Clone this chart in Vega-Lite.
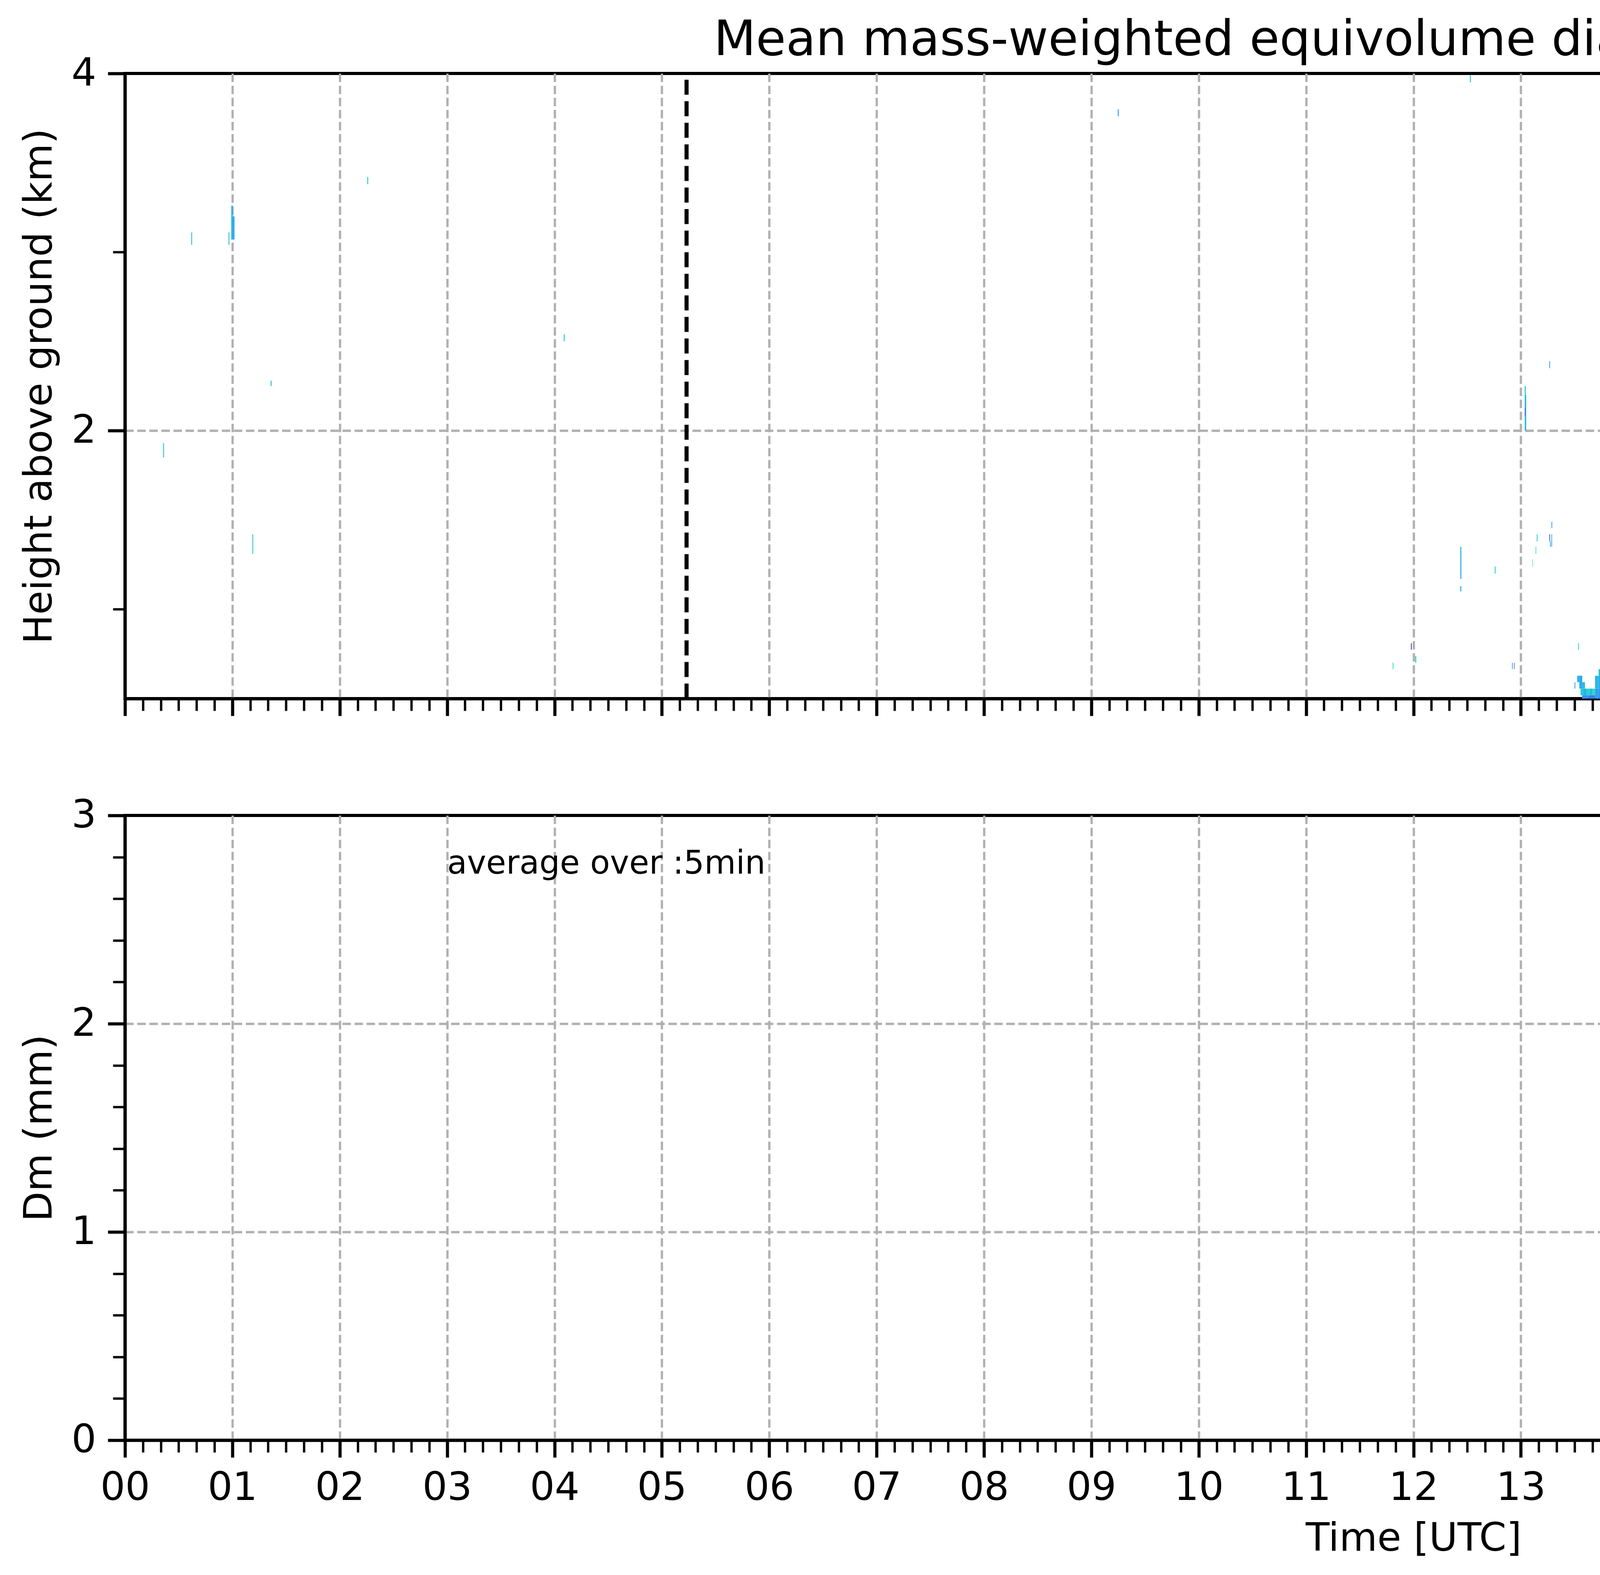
{
"$schema": "https://vega.github.io/schema/vega-lite/v6.json",
"background": "white",
"padding": {"left": 47, "top": 37, "right": 80, "bottom": 10},
"config": {
  "font": "DejaVu Sans",
  "view": {"stroke": "black", "strokeWidth": 8},
  "axis": {"labelFont": "DejaVu Sans", "titleFont": "DejaVu Sans", "labelColor": "black", "titleColor": "black", "tickColor": "black", "titleFontWeight": "normal", "labelFontSize": 100, "titleFontSize": 100, "labelOverlap": false, "labelFlush": false, "labelBound": false, "domain": true, "domainColor": "black", "domainWidth": 8, "gridColor": "#b0b0b0", "gridWidth": 5.8, "gridDash": [21.6, 9.3], "zindex": 1}
},
"datasets": {
"heat": [
{"t0":0.355,"t1":0.364,"h0":1.85,"h1":1.93,"dm":0.6},
{"t0":0.617,"t1":0.625,"h0":3.04,"h1":3.11,"dm":0.5},
{"t0":0.964,"t1":0.972,"h0":3.04,"h1":3.11,"dm":0.5},
{"t0":0.99,"t1":1.005,"h0":3.07,"h1":3.26,"dm":0.48},
{"t0":1.005,"t1":1.02,"h0":3.07,"h1":3.2,"dm":0.45},
{"t0":1.186,"t1":1.194,"h0":1.31,"h1":1.42,"dm":0.57},
{"t0":1.356,"t1":1.365,"h0":2.25,"h1":2.28,"dm":0.53},
{"t0":2.256,"t1":2.265,"h0":3.38,"h1":3.42,"dm":0.57},
{"t0":4.086,"t1":4.095,"h0":2.5,"h1":2.54,"dm":0.57},
{"t0":9.246,"t1":9.255,"h0":3.76,"h1":3.8,"dm":0.45},
{"t0":11.806,"t1":11.814,"h0":0.665,"h1":0.701,"dm":0.72},
{"t0":11.976,"t1":11.984,"h0":0.774,"h1":0.81,"dm":0.15},
{"t0":12.016,"t1":12.026,"h0":0.701,"h1":0.738,"dm":0.6},
{"t0":12.436,"t1":12.446,"h0":1.17,"h1":1.35,"dm":0.48},
{"t0":12.436,"t1":12.446,"h0":1.1,"h1":1.13,"dm":0.48},
{"t0":12.525,"t1":12.534,"h0":3.95,"h1":3.99,"dm":0.57},
{"t0":12.756,"t1":12.765,"h0":1.2,"h1":1.24,"dm":0.65},
{"t0":12.918,"t1":12.924,"h0":0.665,"h1":0.701,"dm":0.32},
{"t0":12.936,"t1":12.942,"h0":0.665,"h1":0.701,"dm":0.32},
{"t0":13.036,"t1":13.046,"h0":2.2,"h1":2.25,"dm":0.57},
{"t0":13.036,"t1":13.05,"h0":2.13,"h1":2.2,"dm":0.5},
{"t0":13.036,"t1":13.043,"h0":2.08,"h1":2.13,"dm":0.2},
{"t0":13.043,"t1":13.05,"h0":2.08,"h1":2.13,"dm":0.45},
{"t0":13.036,"t1":13.05,"h0":2.0,"h1":2.08,"dm":0.5},
{"t0":13.106,"t1":13.112,"h0":1.24,"h1":1.28,"dm":0.85},
{"t0":13.137,"t1":13.143,"h0":1.31,"h1":1.35,"dm":0.68},
{"t0":13.148,"t1":13.155,"h0":1.38,"h1":1.42,"dm":0.57},
{"t0":13.265,"t1":13.272,"h0":2.35,"h1":2.39,"dm":0.4},
{"t0":13.265,"t1":13.272,"h0":1.38,"h1":1.42,"dm":0.2},
{"t0":13.272,"t1":13.279,"h0":1.35,"h1":1.38,"dm":0.48},
{"t0":13.284,"t1":13.291,"h0":1.35,"h1":1.42,"dm":0.48},
{"t0":13.285,"t1":13.292,"h0":1.455,"h1":1.49,"dm":0.4},
{"t0":13.533,"t1":13.541,"h0":0.774,"h1":0.81,"dm":0.68},
{"t0":14.755,"t1":14.764,"h0":1.6,"h1":1.64,"dm":0.57},
{"t0":14.805,"t1":14.814,"h0":1.0,"h1":1.04,"dm":0.38},
{"t0":16.845,"t1":16.854,"h0":1.38,"h1":1.49,"dm":0.57},
{"t0":19.596,"t1":19.605,"h0":1.91,"h1":1.95,"dm":0.5},
{"t0":21.236,"t1":21.245,"h0":1.34,"h1":1.41,"dm":0.5},
{"t0":22.756,"t1":22.765,"h0":1.77,"h1":1.82,"dm":0.53},
{"t0":23.302,"t1":23.31,"h0":0.99,"h1":1.06,"dm":0.6},
{"t0":23.381,"t1":23.389,"h0":1.27,"h1":1.31,"dm":0.85},
{"t0":13.5,"t1":13.507,"h0":0.556,"h1":0.592,"dm":0.38},
{"t0":13.525,"t1":13.545,"h0":0.592,"h1":0.628,"dm":0.48},
{"t0":13.545,"t1":13.572,"h0":0.556,"h1":0.628,"dm":0.45},
{"t0":13.572,"t1":13.597,"h0":0.556,"h1":0.592,"dm":0.5},
{"t0":13.556,"t1":13.58,"h0":0.519,"h1":0.556,"dm":0.57},
{"t0":13.58,"t1":13.61,"h0":0.519,"h1":0.556,"dm":0.48},
{"t0":13.61,"t1":13.64,"h0":0.519,"h1":0.556,"dm":0.6},
{"t0":13.64,"t1":13.67,"h0":0.519,"h1":0.556,"dm":0.5},
{"t0":13.67,"t1":13.691,"h0":0.519,"h1":0.556,"dm":0.65},
{"t0":13.57,"t1":13.63,"h0":0.5,"h1":0.519,"dm":0.38},
{"t0":13.63,"t1":13.691,"h0":0.5,"h1":0.519,"dm":0.3},
{"t0":13.691,"t1":13.724,"h0":0.5,"h1":0.556,"dm":0.42},
{"t0":13.691,"t1":13.724,"h0":0.556,"h1":0.628,"dm":0.5},
{"t0":13.724,"t1":13.76,"h0":0.5,"h1":0.556,"dm":0.38},
{"t0":13.724,"t1":13.76,"h0":0.556,"h1":0.628,"dm":0.45},
{"t0":13.724,"t1":13.76,"h0":0.628,"h1":0.665,"dm":0.53},
{"t0":13.76,"t1":13.8,"h0":0.5,"h1":0.556,"dm":0.48},
{"t0":13.76,"t1":13.8,"h0":0.556,"h1":0.592,"dm":0.35},
{"t0":13.76,"t1":13.8,"h0":0.592,"h1":0.628,"dm":0.5},
{"t0":13.76,"t1":13.8,"h0":0.628,"h1":0.665,"dm":0.57},
{"t0":13.8,"t1":13.845,"h0":0.5,"h1":0.556,"dm":0.5},
{"t0":13.8,"t1":13.845,"h0":0.556,"h1":0.628,"dm":0.42},
{"t0":13.8,"t1":13.845,"h0":0.628,"h1":0.665,"dm":0.48},
{"t0":14.01,"t1":14.017,"h0":0.592,"h1":0.628,"dm":0.5},
{"t0":14.01,"t1":14.017,"h0":0.5,"h1":0.519,"dm":0.5},
{"t0":14.096,"t1":14.106,"h0":0.519,"h1":0.556,"dm":0.65},
{"t0":14.096,"t1":14.106,"h0":0.556,"h1":0.592,"dm":0.15},
{"t0":14.096,"t1":14.106,"h0":0.592,"h1":0.665,"dm":0.5},
{"t0":14.211,"t1":14.24,"h0":0.5,"h1":0.556,"dm":0.48},
{"t0":14.211,"t1":14.24,"h0":0.556,"h1":0.628,"dm":0.57},
{"t0":14.211,"t1":14.24,"h0":0.628,"h1":0.665,"dm":0.53},
{"t0":14.24,"t1":14.27,"h0":0.5,"h1":0.556,"dm":0.42},
{"t0":14.24,"t1":14.27,"h0":0.556,"h1":0.628,"dm":0.38},
{"t0":14.27,"t1":14.3,"h0":0.5,"h1":0.556,"dm":0.5},
{"t0":14.27,"t1":14.3,"h0":0.556,"h1":0.592,"dm":0.3},
{"t0":14.27,"t1":14.3,"h0":0.592,"h1":0.628,"dm":0.48},
{"t0":14.27,"t1":14.3,"h0":0.628,"h1":0.665,"dm":0.45},
{"t0":14.3,"t1":14.33,"h0":0.5,"h1":0.556,"dm":0.57},
{"t0":14.3,"t1":14.33,"h0":0.556,"h1":0.628,"dm":0.42},
{"t0":14.3,"t1":14.33,"h0":0.628,"h1":0.665,"dm":0.5},
{"t0":14.33,"t1":14.36,"h0":0.5,"h1":0.556,"dm":0.38},
{"t0":14.33,"t1":14.36,"h0":0.556,"h1":0.592,"dm":0.48},
{"t0":14.33,"t1":14.36,"h0":0.592,"h1":0.665,"dm":0.35},
{"t0":14.36,"t1":14.39,"h0":0.5,"h1":0.556,"dm":0.48},
{"t0":14.36,"t1":14.39,"h0":0.556,"h1":0.628,"dm":0.53},
{"t0":14.36,"t1":14.39,"h0":0.628,"h1":0.665,"dm":0.42},
{"t0":14.39,"t1":14.43,"h0":0.5,"h1":0.556,"dm":0.35},
{"t0":14.39,"t1":14.43,"h0":0.556,"h1":0.628,"dm":0.48},
{"t0":14.39,"t1":14.43,"h0":0.628,"h1":0.665,"dm":0.5},
{"t0":14.468,"t1":14.478,"h0":0.556,"h1":0.628,"dm":0.35},
{"t0":14.468,"t1":14.478,"h0":0.628,"h1":0.665,"dm":0.65},
{"t0":14.498,"t1":14.53,"h0":0.5,"h1":0.556,"dm":0.38},
{"t0":14.498,"t1":14.53,"h0":0.556,"h1":0.628,"dm":0.6},
{"t0":14.498,"t1":14.53,"h0":0.628,"h1":0.665,"dm":0.5},
{"t0":14.53,"t1":14.56,"h0":0.5,"h1":0.556,"dm":0.5},
{"t0":14.53,"t1":14.56,"h0":0.556,"h1":0.592,"dm":0.42},
{"t0":14.53,"t1":14.56,"h0":0.592,"h1":0.665,"dm":0.48},
{"t0":14.56,"t1":14.59,"h0":0.5,"h1":0.556,"dm":0.3},
{"t0":14.56,"t1":14.59,"h0":0.556,"h1":0.628,"dm":0.5},
{"t0":14.56,"t1":14.59,"h0":0.628,"h1":0.665,"dm":0.57},
{"t0":14.59,"t1":14.617,"h0":0.5,"h1":0.556,"dm":0.48},
{"t0":14.59,"t1":14.617,"h0":0.556,"h1":0.628,"dm":0.25},
{"t0":14.59,"t1":14.617,"h0":0.628,"h1":0.665,"dm":0.45},
{"t0":14.629,"t1":14.637,"h0":0.592,"h1":0.628,"dm":0.48},
{"t0":14.658,"t1":14.666,"h0":0.628,"h1":0.665,"dm":0.48},
{"t0":14.695,"t1":14.72,"h0":0.5,"h1":0.556,"dm":0.48},
{"t0":14.695,"t1":14.72,"h0":0.556,"h1":0.628,"dm":0.2},
{"t0":14.695,"t1":14.72,"h0":0.628,"h1":0.665,"dm":0.48},
{"t0":14.72,"t1":14.745,"h0":0.5,"h1":0.556,"dm":0.42},
{"t0":14.72,"t1":14.745,"h0":0.556,"h1":0.628,"dm":0.3},
{"t0":14.72,"t1":14.745,"h0":0.628,"h1":0.665,"dm":0.38},
{"t0":14.745,"t1":14.771,"h0":0.5,"h1":0.556,"dm":0.72},
{"t0":14.745,"t1":14.771,"h0":0.556,"h1":0.628,"dm":0.48},
{"t0":14.745,"t1":14.771,"h0":0.628,"h1":0.665,"dm":0.5},
{"t0":14.779,"t1":14.8,"h0":0.5,"h1":0.556,"dm":0.5},
{"t0":14.779,"t1":14.8,"h0":0.556,"h1":0.628,"dm":0.8},
{"t0":14.779,"t1":14.8,"h0":0.628,"h1":0.665,"dm":0.68},
{"t0":14.8,"t1":14.82,"h0":0.5,"h1":0.556,"dm":0.42},
{"t0":14.8,"t1":14.82,"h0":0.556,"h1":0.628,"dm":0.72},
{"t0":14.8,"t1":14.82,"h0":0.628,"h1":0.665,"dm":0.5},
{"t0":14.82,"t1":14.845,"h0":0.5,"h1":0.556,"dm":0.45},
{"t0":14.82,"t1":14.845,"h0":0.556,"h1":0.628,"dm":0.38},
{"t0":14.82,"t1":14.845,"h0":0.628,"h1":0.701,"dm":0.5},
{"t0":14.845,"t1":14.868,"h0":0.5,"h1":0.556,"dm":0.53},
{"t0":14.845,"t1":14.868,"h0":0.556,"h1":0.628,"dm":0.48},
{"t0":14.845,"t1":14.868,"h0":0.628,"h1":0.701,"dm":0.57},
{"t0":14.909,"t1":14.935,"h0":0.5,"h1":0.556,"dm":0.45},
{"t0":14.909,"t1":14.935,"h0":0.556,"h1":0.628,"dm":0.48},
{"t0":14.909,"t1":14.935,"h0":0.628,"h1":0.701,"dm":0.42},
{"t0":14.935,"t1":14.966,"h0":0.5,"h1":0.556,"dm":0.5},
{"t0":14.935,"t1":14.966,"h0":0.556,"h1":0.628,"dm":0.57},
{"t0":14.935,"t1":14.966,"h0":0.628,"h1":0.701,"dm":0.48},
{"t0":14.994,"t1":15.002,"h0":0.556,"h1":0.628,"dm":0.5},
{"t0":15.102,"t1":15.11,"h0":0.665,"h1":0.701,"dm":0.65},
{"t0":15.209,"t1":15.23,"h0":0.5,"h1":0.556,"dm":0.48},
{"t0":15.209,"t1":15.23,"h0":0.556,"h1":0.628,"dm":0.5},
{"t0":15.209,"t1":15.23,"h0":0.628,"h1":0.665,"dm":0.25},
{"t0":15.209,"t1":15.23,"h0":0.665,"h1":0.701,"dm":0.53},
{"t0":15.23,"t1":15.25,"h0":0.5,"h1":0.556,"dm":0.5},
{"t0":15.23,"t1":15.25,"h0":0.556,"h1":0.665,"dm":0.48},
{"t0":15.23,"t1":15.25,"h0":0.665,"h1":0.701,"dm":0.57},
{"t0":15.301,"t1":15.308,"h0":0.665,"h1":0.701,"dm":0.38},
{"t0":15.377,"t1":15.396,"h0":0.519,"h1":0.628,"dm":0.53},
{"t0":15.396,"t1":15.42,"h0":0.5,"h1":0.556,"dm":0.35},
{"t0":15.396,"t1":15.42,"h0":0.556,"h1":0.628,"dm":0.48},
{"t0":15.396,"t1":15.42,"h0":0.628,"h1":0.701,"dm":0.5},
{"t0":15.42,"t1":15.445,"h0":0.5,"h1":0.556,"dm":0.5},
{"t0":15.42,"t1":15.445,"h0":0.556,"h1":0.628,"dm":0.65},
{"t0":15.42,"t1":15.445,"h0":0.628,"h1":0.665,"dm":0.3},
{"t0":15.42,"t1":15.445,"h0":0.665,"h1":0.701,"dm":0.48},
{"t0":15.445,"t1":15.465,"h0":0.5,"h1":0.556,"dm":0.48},
{"t0":15.445,"t1":15.465,"h0":0.556,"h1":0.628,"dm":0.42},
{"t0":15.445,"t1":15.465,"h0":0.628,"h1":0.701,"dm":0.57},
{"t0":15.465,"t1":15.485,"h0":0.5,"h1":0.556,"dm":0.57},
{"t0":15.465,"t1":15.485,"h0":0.556,"h1":0.628,"dm":0.48},
{"t0":15.465,"t1":15.485,"h0":0.628,"h1":0.701,"dm":0.45},
{"t0":15.515,"t1":15.54,"h0":0.5,"h1":0.556,"dm":0.6},
{"t0":15.515,"t1":15.54,"h0":0.556,"h1":0.628,"dm":0.5},
{"t0":15.515,"t1":15.54,"h0":0.628,"h1":0.701,"dm":0.48},
{"t0":15.54,"t1":15.57,"h0":0.5,"h1":0.556,"dm":0.48},
{"t0":15.54,"t1":15.57,"h0":0.556,"h1":0.628,"dm":0.35},
{"t0":15.54,"t1":15.57,"h0":0.628,"h1":0.665,"dm":0.57},
{"t0":15.54,"t1":15.57,"h0":0.665,"h1":0.701,"dm":0.42},
{"t0":15.57,"t1":15.599,"h0":0.5,"h1":0.556,"dm":0.5},
{"t0":15.57,"t1":15.599,"h0":0.556,"h1":0.628,"dm":0.45},
{"t0":15.57,"t1":15.599,"h0":0.628,"h1":0.701,"dm":0.3},
{"t0":15.632,"t1":15.655,"h0":0.519,"h1":0.556,"dm":0.5},
{"t0":15.632,"t1":15.655,"h0":0.556,"h1":0.628,"dm":0.48},
{"t0":15.632,"t1":15.655,"h0":0.628,"h1":0.701,"dm":0.5},
{"t0":15.655,"t1":15.672,"h0":0.556,"h1":0.592,"dm":0.3},
{"t0":15.655,"t1":15.672,"h0":0.628,"h1":0.701,"dm":0.42},
{"t0":15.672,"t1":15.701,"h0":0.5,"h1":0.556,"dm":0.5},
{"t0":15.672,"t1":15.701,"h0":0.556,"h1":0.628,"dm":0.57},
{"t0":15.672,"t1":15.701,"h0":0.628,"h1":0.701,"dm":0.48},
{"t0":15.85,"t1":15.869,"h0":0.519,"h1":0.628,"dm":0.42},
{"t0":15.85,"t1":15.869,"h0":0.628,"h1":0.701,"dm":0.48},
{"t0":15.902,"t1":15.926,"h0":0.5,"h1":0.556,"dm":0.3},
{"t0":15.902,"t1":15.926,"h0":0.556,"h1":0.628,"dm":0.2},
{"t0":15.902,"t1":15.926,"h0":0.628,"h1":0.701,"dm":0.48},
{"t0":16.086,"t1":16.094,"h0":0.774,"h1":0.81,"dm":0.68},
{"t0":16.109,"t1":16.117,"h0":0.738,"h1":0.774,"dm":0.65},
{"t0":16.165,"t1":16.197,"h0":0.665,"h1":0.701,"dm":0.5},
{"t0":16.19,"t1":16.198,"h0":0.628,"h1":0.665,"dm":0.57},
{"t0":16.166,"t1":16.174,"h0":0.592,"h1":0.628,"dm":0.35},
{"t0":16.396,"t1":16.404,"h0":0.665,"h1":0.701,"dm":0.48},
{"t0":16.86,"t1":16.885,"h0":0.5,"h1":0.556,"dm":0.6},
{"t0":16.86,"t1":16.885,"h0":0.556,"h1":0.628,"dm":0.48},
{"t0":16.86,"t1":16.885,"h0":0.628,"h1":0.701,"dm":0.5},
{"t0":16.885,"t1":16.91,"h0":0.5,"h1":0.556,"dm":0.42},
{"t0":16.885,"t1":16.91,"h0":0.556,"h1":0.628,"dm":0.38},
{"t0":16.885,"t1":16.91,"h0":0.628,"h1":0.701,"dm":0.48},
{"t0":16.91,"t1":16.935,"h0":0.5,"h1":0.556,"dm":0.35},
{"t0":16.91,"t1":16.935,"h0":0.556,"h1":0.628,"dm":0.5},
{"t0":16.91,"t1":16.935,"h0":0.628,"h1":0.665,"dm":0.25},
{"t0":16.91,"t1":16.935,"h0":0.665,"h1":0.701,"dm":0.48},
{"t0":16.935,"t1":16.96,"h0":0.5,"h1":0.556,"dm":0.48},
{"t0":16.935,"t1":16.96,"h0":0.556,"h1":0.628,"dm":0.42},
{"t0":16.935,"t1":16.96,"h0":0.628,"h1":0.701,"dm":0.5},
{"t0":16.96,"t1":16.985,"h0":0.5,"h1":0.556,"dm":0.38},
{"t0":16.96,"t1":16.985,"h0":0.556,"h1":0.628,"dm":0.53},
{"t0":16.96,"t1":16.985,"h0":0.628,"h1":0.701,"dm":0.45},
{"t0":16.985,"t1":17.01,"h0":0.5,"h1":0.556,"dm":0.45},
{"t0":16.985,"t1":17.01,"h0":0.556,"h1":0.628,"dm":0.38},
{"t0":16.985,"t1":17.01,"h0":0.628,"h1":0.701,"dm":0.48},
{"t0":17.01,"t1":17.047,"h0":0.5,"h1":0.556,"dm":0.38},
{"t0":17.01,"t1":17.047,"h0":0.556,"h1":0.628,"dm":0.48},
{"t0":17.01,"t1":17.047,"h0":0.628,"h1":0.701,"dm":0.5},
{"t0":17.047,"t1":17.075,"h0":0.519,"h1":0.592,"dm":0.35},
{"t0":17.047,"t1":17.075,"h0":0.628,"h1":0.701,"dm":0.57},
{"t0":17.075,"t1":17.099,"h0":0.5,"h1":0.592,"dm":0.42},
{"t0":17.075,"t1":17.099,"h0":0.592,"h1":0.701,"dm":0.5},
{"t0":17.099,"t1":17.12,"h0":0.5,"h1":0.592,"dm":0.38},
{"t0":17.099,"t1":17.12,"h0":0.592,"h1":0.701,"dm":0.53},
{"t0":17.099,"t1":17.12,"h0":0.701,"h1":0.774,"dm":0.48},
{"t0":17.12,"t1":17.128,"h0":0.665,"h1":0.774,"dm":0.45},
{"t0":23.128,"t1":23.143,"h0":0.519,"h1":0.556,"dm":0.5},
{"t0":23.143,"t1":23.18,"h0":0.5,"h1":0.519,"dm":0.48},
{"t0":23.143,"t1":23.18,"h0":0.519,"h1":0.556,"dm":0.45},
{"t0":23.143,"t1":23.18,"h0":0.556,"h1":0.592,"dm":0.42},
{"t0":23.18,"t1":23.22,"h0":0.5,"h1":0.519,"dm":0.38},
{"t0":23.18,"t1":23.22,"h0":0.519,"h1":0.556,"dm":0.53},
{"t0":23.18,"t1":23.22,"h0":0.556,"h1":0.592,"dm":0.38},
{"t0":23.22,"t1":23.26,"h0":0.5,"h1":0.519,"dm":0.48},
{"t0":23.22,"t1":23.26,"h0":0.519,"h1":0.556,"dm":0.42},
{"t0":23.22,"t1":23.26,"h0":0.556,"h1":0.592,"dm":0.35},
{"t0":23.26,"t1":23.306,"h0":0.5,"h1":0.519,"dm":0.5},
{"t0":23.26,"t1":23.306,"h0":0.519,"h1":0.556,"dm":0.6},
{"t0":23.26,"t1":23.306,"h0":0.556,"h1":0.592,"dm":0.45},
{"t0":23.306,"t1":23.367,"h0":0.5,"h1":0.519,"dm":0.48},
{"t0":23.306,"t1":23.367,"h0":0.519,"h1":0.556,"dm":0.42},
{"t0":23.367,"t1":23.391,"h0":0.5,"h1":0.519,"dm":0.45},
{"t0":23.391,"t1":23.443,"h0":0.5,"h1":0.519,"dm":0.5},
{"t0":23.391,"t1":23.443,"h0":0.519,"h1":0.556,"dm":0.35},
{"t0":23.443,"t1":23.48,"h0":0.5,"h1":0.519,"dm":0.42}
],
"nights": [{"t0": 5.23}, {"t0": 17.47}],
"dmseries": [
{"series": "Min-Max Range radar Dm", "t0": 17.08, "t1": 17.10, "lo": 0.25, "hi": 0.75},
{"series": "radar(xmacs-wmacs)_Dm_median", "t0": 17.09, "t1": null, "lo": null, "hi": null},
{"series": "Min-Max Range parsivel Dm", "t0": null, "t1": null, "lo": null, "hi": null},
{"series": "parsivel_Dm_median", "t0": null, "t1": null, "lo": null, "hi": null}
],
"note": [{"t0": 3.0, "lo": 2.72, "label": "average over :5min"}]
},
"spacing": 299,
"bounds": "flush",
"resolve": {
  "scale": {"color": "independent", "fill": "independent", "stroke": "independent", "shape": "independent"},
  "legend": {"color": "independent", "fill": "independent", "stroke": "independent", "shape": "independent"}
},
"vconcat": [
{
  "width": 6597, "height": 1600,
  "title": {"text": "Mean mass-weighted equivolume diameter on 20260321", "fontSize": 125, "fontWeight": "normal", "font": "DejaVu Sans", "anchor": "middle", "frame": "group", "baseline": "alphabetic", "offset": -128, "color": "black"},
  "resolve": {"axis": {"y": "independent"}},
  "encoding": {
    "x": {"field": "t0", "type": "quantitative", "scale": {"domain": [0, 24], "nice": false, "zero": false},
      "axis": {"values": [0,0.1667,0.3333,0.5,0.6667,0.8333,1,1.1667,1.3333,1.5,1.6667,1.8333,2,2.1667,2.3333,2.5,2.6667,2.8333,3,3.1667,3.3333,3.5,3.6667,3.8333,4,4.1667,4.3333,4.5,4.6667,4.8333,5,5.1667,5.3333,5.5,5.6667,5.8333,6,6.1667,6.3333,6.5,6.6667,6.8333,7,7.1667,7.3333,7.5,7.6667,7.8333,8,8.1667,8.3333,8.5,8.6667,8.8333,9,9.1667,9.3333,9.5,9.6667,9.8333,10,10.1667,10.3333,10.5,10.6667,10.8333,11,11.1667,11.3333,11.5,11.6667,11.8333,12,12.1667,12.3333,12.5,12.6667,12.8333,13,13.1667,13.3333,13.5,13.6667,13.8333,14,14.1667,14.3333,14.5,14.6667,14.8333,15,15.1667,15.3333,15.5,15.6667,15.8333,16,16.1667,16.3333,16.5,16.6667,16.8333,17,17.1667,17.3333,17.5,17.6667,17.8333,18,18.1667,18.3333,18.5,18.6667,18.8333,19,19.1667,19.3333,19.5,19.6667,19.8333,20,20.1667,20.3333,20.5,20.6667,20.8333,21,21.1667,21.3333,21.5,21.6667,21.8333,22,22.1667,22.3333,22.5,22.6667,22.8333,23,23.1667,23.3333,23.5,23.6667,23.8333],
        "labels": false, "title": null,
        "tickSize": {"condition": {"test": "abs(datum.value - round(datum.value)) < 0.01", "value": 44}, "value": 31},
        "tickWidth": {"condition": {"test": "abs(datum.value - round(datum.value)) < 0.01", "value": 8}, "value": 6},
        "grid": true,
        "gridOpacity": {"condition": {"test": "abs(datum.value - round(datum.value)) < 0.01 && datum.value > 0.5", "value": 1}, "value": 0}}}
  },
  "layer": [
    {"data": {"name": "heat"}, "mark": {"type": "rect"},
     "encoding": {
       "x2": {"field": "t1"},
       "y": {"field": "h0", "type": "quantitative", "scale": {"domain": [0.5, 4], "nice": false, "zero": false},
         "axis": {"values": [1, 2, 3, 4], "title": "Height above ground (km)",
           "labelExpr": "datum.value % 2 === 0 ? format(datum.value, 'd') : ''",
           "tickSize": {"condition": {"test": "datum.value % 2 === 0", "value": 44}, "value": 31},
           "tickWidth": {"condition": {"test": "datum.value % 2 === 0", "value": 8}, "value": 6},
           "labelPadding": 30, "titlePadding": 30, "grid": true,
           "gridOpacity": {"condition": {"test": "datum.value === 2", "value": 1}, "value": 0}}},
       "y2": {"field": "h1"},
       "color": {"field": "dm", "type": "quantitative", "scale": {"scheme": "turbo", "domain": [0, 2]},
         "legend": {"title": null, "orient": "none", "legendX": 6673, "legendY": 0, "direction": "vertical", "gradientLength": 1600, "gradientThickness": 114, "gradientStrokeColor": "black", "gradientStrokeWidth": 8, "values": [0, 0.4, 0.8, 1.2, 1.6, 2.0], "format": ".1f", "labelFontSize": 83, "labelOffset": 52, "labelBaseline": "middle", "labelOverlap": false, "labelColor": "black", "labelFont": "DejaVu Sans", "encoding": {"labels": {"baseline": {"value": "middle"}}}}}
     }},
    {"data": {"name": "nights"}, "mark": {"type": "rule", "color": "black", "strokeWidth": 10.4, "strokeDash": [38.5, 16.7]},
     "encoding": {
       "y": {"datum": 0.5, "type": "quantitative", "scale": {"domain": [0.5, 4], "nice": false, "zero": false},
         "axis": {"orient": "right", "title": "Dm (mm)", "titleFontSize": 83, "titleAngle": 270, "titleBaseline": "top", "titleAlign": "center", "titlePadding": 380, "ticks": false, "labels": false, "domain": false, "grid": false}},
       "y2": {"datum": 4}
     }}
  ]
},
{
  "width": 6597, "height": 1599,
  "encoding": {
    "x": {"field": "t0", "type": "quantitative", "scale": {"domain": [0, 24], "nice": false, "zero": false},
      "axis": {"values": [0,0.1667,0.3333,0.5,0.6667,0.8333,1,1.1667,1.3333,1.5,1.6667,1.8333,2,2.1667,2.3333,2.5,2.6667,2.8333,3,3.1667,3.3333,3.5,3.6667,3.8333,4,4.1667,4.3333,4.5,4.6667,4.8333,5,5.1667,5.3333,5.5,5.6667,5.8333,6,6.1667,6.3333,6.5,6.6667,6.8333,7,7.1667,7.3333,7.5,7.6667,7.8333,8,8.1667,8.3333,8.5,8.6667,8.8333,9,9.1667,9.3333,9.5,9.6667,9.8333,10,10.1667,10.3333,10.5,10.6667,10.8333,11,11.1667,11.3333,11.5,11.6667,11.8333,12,12.1667,12.3333,12.5,12.6667,12.8333,13,13.1667,13.3333,13.5,13.6667,13.8333,14,14.1667,14.3333,14.5,14.6667,14.8333,15,15.1667,15.3333,15.5,15.6667,15.8333,16,16.1667,16.3333,16.5,16.6667,16.8333,17,17.1667,17.3333,17.5,17.6667,17.8333,18,18.1667,18.3333,18.5,18.6667,18.8333,19,19.1667,19.3333,19.5,19.6667,19.8333,20,20.1667,20.3333,20.5,20.6667,20.8333,21,21.1667,21.3333,21.5,21.6667,21.8333,22,22.1667,22.3333,22.5,22.6667,22.8333,23,23.1667,23.3333,23.5,23.6667,23.8333],
        "title": "Time [UTC]",
        "labelExpr": "abs(datum.value - round(datum.value)) < 0.01 ? format(round(datum.value), '02d') : ''",
        "labelPadding": 29, "titlePadding": 31,
        "tickSize": {"condition": {"test": "abs(datum.value - round(datum.value)) < 0.01", "value": 44}, "value": 31},
        "tickWidth": {"condition": {"test": "abs(datum.value - round(datum.value)) < 0.01", "value": 8}, "value": 6},
        "grid": true,
        "gridOpacity": {"condition": {"test": "abs(datum.value - round(datum.value)) < 0.01 && datum.value > 0.5", "value": 1}, "value": 0}}},
    "y": {"field": "lo", "type": "quantitative", "scale": {"domain": [0, 3], "nice": false, "zero": false},
      "axis": {"values": [0,0.2,0.4,0.6,0.8,1,1.2,1.4,1.6,1.8,2,2.2,2.4,2.6,2.8,3], "title": "Dm (mm)",
        "labelExpr": "abs(datum.value - round(datum.value)) < 0.01 ? format(round(datum.value), 'd') : ''",
        "tickSize": {"condition": {"test": "abs(datum.value - round(datum.value)) < 0.01", "value": 44}, "value": 31},
        "tickWidth": {"condition": {"test": "abs(datum.value - round(datum.value)) < 0.01", "value": 8}, "value": 6},
        "labelPadding": 30, "titlePadding": 30, "grid": true,
        "gridOpacity": {"condition": {"test": "abs(datum.value - round(datum.value)) < 0.01 && datum.value > 0.5 && datum.value < 2.5", "value": 1}, "value": 0}}}
  },
  "layer": [
    {"data": {"name": "dmseries"}, "mark": {"type": "rect"},
     "encoding": {
       "x2": {"field": "t1"}, "y2": {"field": "hi"},
       "fill": {"field": "series", "type": "nominal",
         "scale": {"domain": ["Min-Max Range radar Dm", "radar(xmacs-wmacs)_Dm_median", "Min-Max Range parsivel Dm", "parsivel_Dm_median"], "range": ["#c0c0c0", "transparent", "#ecb2ec", "transparent"]},
         "legend": {"title": null, "orient": "top-right", "offset": 35, "padding": 22, "fillColor": "rgba(255,255,255,0.8)", "strokeColor": "#cccccc", "cornerRadius": 17, "labelFontSize": 69.4, "labelFont": "DejaVu Sans", "labelColor": "black", "labelOffset": 108, "labelLimit": 3000, "rowPadding": 0, "symbolSize": 8836, "symbolOffset": 27.5, "symbolStrokeWidth": 8.3, "symbolOpacity": 1, "zindex": 2, "encoding": {"legend": {"strokeWidth": {"value": 7}}}}}
     }},
    {"data": {"name": "dmseries"}, "transform": [{"filter": "test(/median/, datum.series)"}],
     "mark": {"type": "point", "filled": true, "opacity": 1},
     "encoding": {
       "fill": {"field": "series", "type": "nominal",
         "scale": {"domain": ["Min-Max Range radar Dm", "radar(xmacs-wmacs)_Dm_median", "Min-Max Range parsivel Dm", "parsivel_Dm_median"], "range": ["#c0c0c0", "transparent", "#ecb2ec", "transparent"]},
         "legend": {"title": null, "orient": "top-right", "offset": 35, "padding": 22, "fillColor": "rgba(255,255,255,0.8)", "strokeColor": "#cccccc", "cornerRadius": 17, "labelFontSize": 69.4, "labelFont": "DejaVu Sans", "labelColor": "black", "labelOffset": 108, "labelLimit": 3000, "rowPadding": 0, "symbolSize": 8836, "symbolOffset": 27.5, "symbolStrokeWidth": 8.3, "symbolOpacity": 1, "zindex": 2, "encoding": {"legend": {"strokeWidth": {"value": 7}}}}},
       "stroke": {"field": "series", "type": "nominal",
         "scale": {"domain": ["Min-Max Range radar Dm", "radar(xmacs-wmacs)_Dm_median", "Min-Max Range parsivel Dm", "parsivel_Dm_median"], "range": ["#b0b0b0", "#000000", "#e08ce0", "#bf00bf"]},
         "legend": {"title": null, "orient": "top-right", "offset": 35, "padding": 22, "fillColor": "rgba(255,255,255,0.8)", "strokeColor": "#cccccc", "cornerRadius": 17, "labelFontSize": 69.4, "labelFont": "DejaVu Sans", "labelColor": "black", "labelOffset": 108, "labelLimit": 3000, "rowPadding": 0, "symbolSize": 8836, "symbolOffset": 27.5, "symbolStrokeWidth": 8.3, "symbolOpacity": 1, "zindex": 2, "encoding": {"legend": {"strokeWidth": {"value": 7}}}}},
       "shape": {"field": "series", "type": "nominal",
         "scale": {"domain": ["Min-Max Range radar Dm", "radar(xmacs-wmacs)_Dm_median", "Min-Max Range parsivel Dm", "parsivel_Dm_median"], "range": ["M-1.48,-0.517H1.48V0.517H-1.48Z", "M-1.48,0H1.48", "M-1.48,-0.517H1.48V0.517H-1.48Z", "M-1.48,0H1.48"]},
         "legend": {"title": null, "orient": "top-right", "offset": 35, "padding": 22, "fillColor": "rgba(255,255,255,0.8)", "strokeColor": "#cccccc", "cornerRadius": 17, "labelFontSize": 69.4, "labelFont": "DejaVu Sans", "labelColor": "black", "labelOffset": 108, "labelLimit": 3000, "rowPadding": 0, "symbolSize": 8836, "symbolOffset": 27.5, "symbolStrokeWidth": 8.3, "symbolOpacity": 1, "zindex": 2, "encoding": {"legend": {"strokeWidth": {"value": 7}}}}}
     }},
    {"data": {"name": "note"}, "mark": {"type": "text", "align": "left", "baseline": "alphabetic", "fontSize": 83, "font": "DejaVu Sans", "color": "black"},
     "encoding": {"text": {"field": "label"}}}
  ]
}
]
}
